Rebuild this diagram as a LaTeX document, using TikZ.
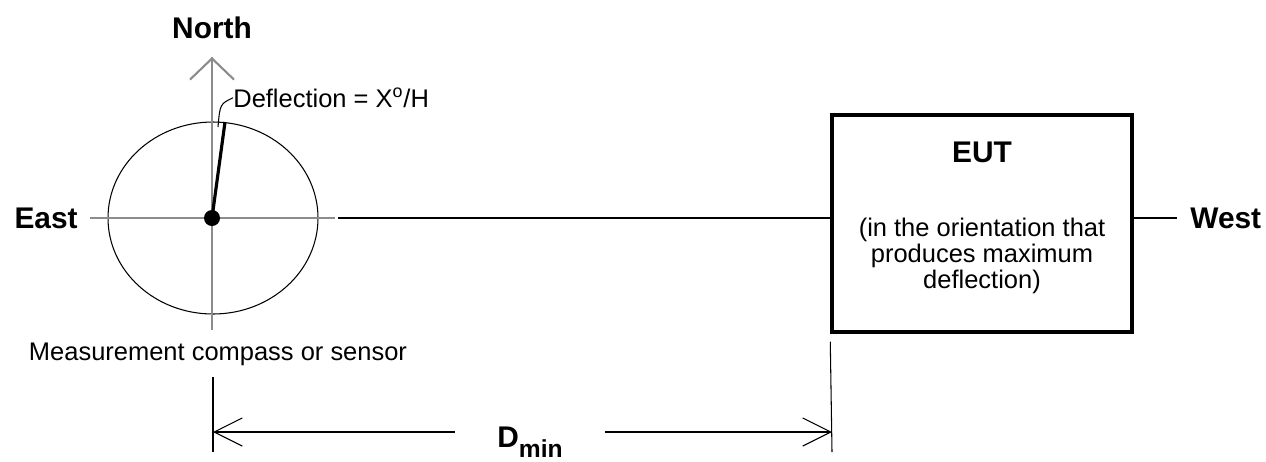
\documentclass[tikz,border=0pt]{standalone}
\usepackage{fontspec}
\setmainfont{Liberation Sans}
\usetikzlibrary{arrows.meta,positioning}
\definecolor{axisgray}{RGB}{140,140,140}
\begin{document}
\begin{tikzpicture}[x=0.02cm, y=-0.02cm,
  thin/.style={line width=0.6pt},
  axis/.style={axisgray, line width=1.2pt},
  bigtxt/.style={inner sep=0pt, font=\fontsize{17}{20}\selectfont\bfseries},
  smalltxt/.style={inner sep=0pt, font=\fontsize{14.5}{14.7}\selectfont},
  dim/.style={thin, -{Straight Barb[length=16pt,width=16pt]}}]
\useasboundingbox (0,0) rectangle (1266,461);

% compass
\coordinate (c) at (212,218);
\coordinate (ntip) at (212,57);
\coordinate (sbot) at (212,330);
\coordinate (ewest) at (90,218);
\coordinate (eeast) at (335,218);
\coordinate (needle) at (225,122);
\draw[thin] (213,218) ellipse[x radius=105, y radius=96];
\draw[axis] (ewest) -- (eeast);
\draw[axis] (sbot) -- (ntip);
\draw[axis, -{Straight Barb[length=12pt,width=25pt]}] (212,100) -- (ntip);
\draw[line width=1.8pt] (c) -- (needle);
\fill (c) circle[radius=8];

\node[bigtxt] (north) at (212,28) {North};
\node[bigtxt, left=0.24cm of ewest] (east) {East};
\node[smalltxt, anchor=base west] (defl) at (233,107) {Deflection = X\textsuperscript{o}/H};
\draw[thin] (defl.west) .. controls (220,104) .. (218,127);
\node[smalltxt, anchor=base] (meas) at (218,360) {Measurement compass or sensor};

% EUT
\node[draw, line width=2pt, minimum width=6cm, minimum height=4.34cm] (eut) at (982,223.5) {};
\node[bigtxt] (euttitle) at (982,152) {EUT};
\node[smalltxt, align=center] (eutnote) at (982,256) {(in the orientation that\\produces maximum\\deflection)};
\node[bigtxt, anchor=west] (west) at (1190,218) {West};
\coordinate (ln) at (338,218);
\draw[thin] (ln) -- (ln -| eut.west);
\draw[thin, shorten >=7.4pt] (west.west -| eut.east) -- (west.west);

% distance
\coordinate (lt) at (213,432);
\coordinate (rt) at (832,432);
\draw[thin] (213,377) -- (213,452);
\draw[thin] (eut.south west) ++(0,8) -- (832,452);
\node[inner xsep=24pt, inner ysep=0pt, anchor=base, font=\fontsize{17}{20}\selectfont\bfseries] (dmin) at (530,447)
  {D\raisebox{-6pt}{\fontsize{14}{14}\selectfont min}};
\draw[dim] (dmin.west |- lt) -- (lt);
\draw[dim] (dmin.east |- rt) -- (rt);

\end{tikzpicture}
\end{document}
